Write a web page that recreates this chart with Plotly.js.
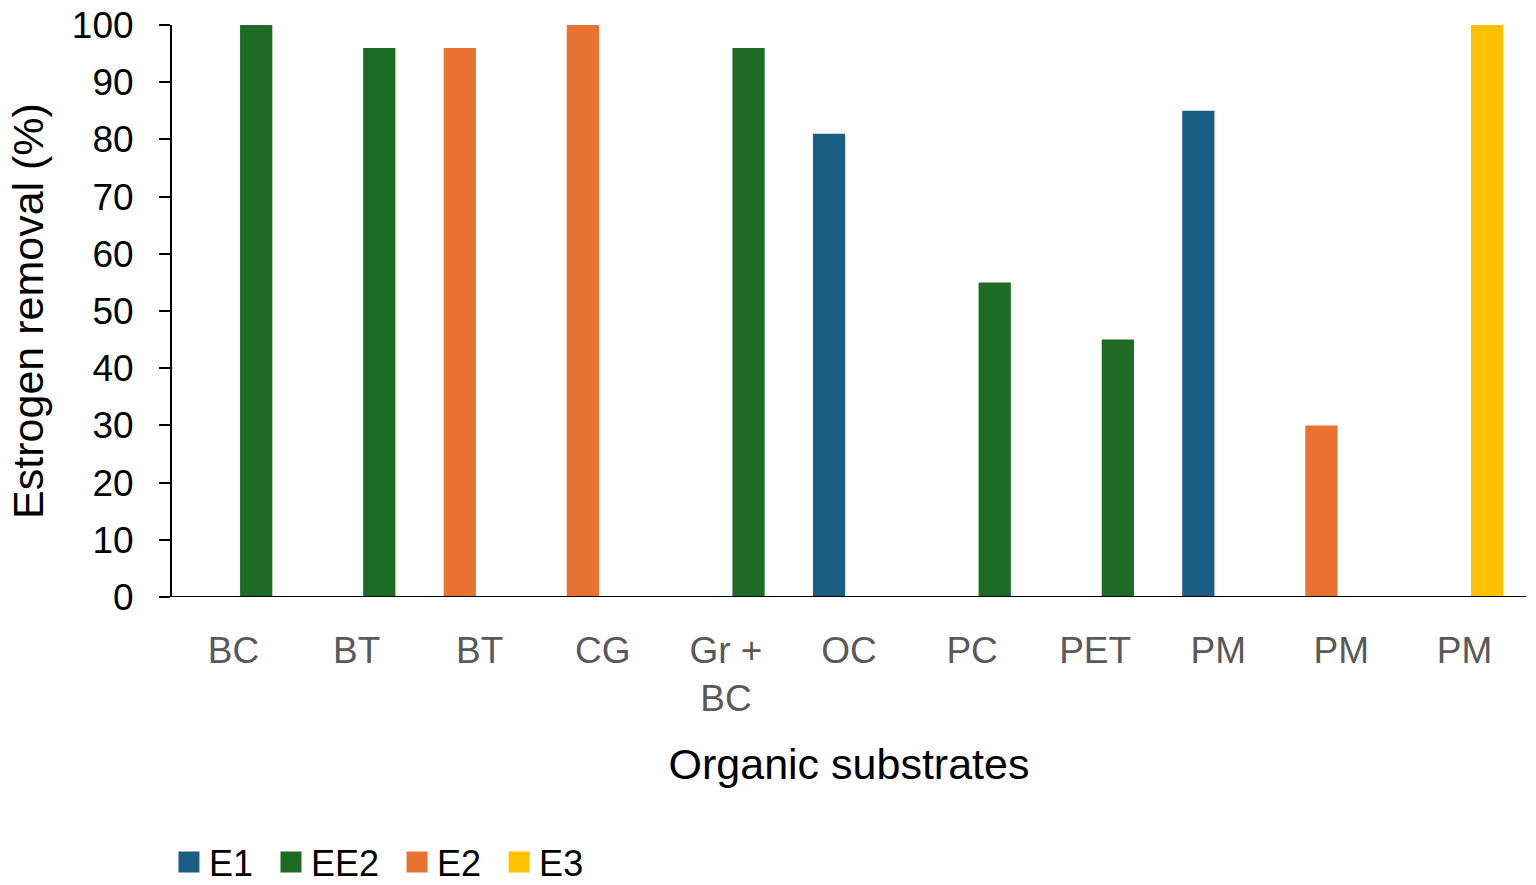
<!DOCTYPE html>
<html>
<head>
<meta charset="utf-8">
<script src="https://cdn.plot.ly/plotly-3.0.1.min.js"></script>
<style>
  html, body { margin: 0; padding: 0; background: white; }
  #chart { width: 1536px; height: 885px; }
</style>
</head>
<body>
<div id="chart"></div>
<script>
// substrates on the x axis (labels repeat, so the axis is numeric)
const CATEGORIES = [ 'BC', 'BT', 'BT', 'CG', 'Gr +<br>BC', 'OC', 'PC', 'PET', 'PM', 'PM', 'PM' ];

// estrogen removal (%) per substrate, null where not tested
const E1_VALUES  = [ null, null, null, null, null, 81, null, null, 85, null, null ];
const EE2_VALUES = [ 100, 96, null, null, 96, null, 55, 45, null, null, null ];
const E2_VALUES  = [ null, null, 96, 100, null, null, null, null, null, 30, null ];
const E3_VALUES  = [ null, null, null, null, null, null, null, null, null, null, 100 ];

const SERIES_NAMES  = [ 'E1', 'EE2', 'E2', 'E3' ];
const SERIES_COLORS = [ '#1b5e82', '#1e6b24', '#e97132', '#ffc000' ];
const SERIES_OFFSET = [ -0.293, 0.053, -0.293, 0.053 ];
const BAR_WIDTH     = 0.262;
const FONT          = 'Liberation Sans, Arial, sans-serif';
const KEY_PAD       = '\u00a0\u200a';   // a bit more room between legend entries

const positions = CATEGORIES.map( ( c, i ) => i );

function make_trace( values, n ) {
	return {
		type      : 'bar',
		name      : SERIES_NAMES[ n ],
		x         : positions,
		y         : values,
		offset    : SERIES_OFFSET[ n ],
		width     : BAR_WIDTH,
		marker    : { color: SERIES_COLORS[ n ] },
		showlegend: false,
		hoverinfo : 'y+name'
	};
}

// legend entries only: bigger square keys than the bar legend gives
function make_key( name, n ) {
	return {
		type  : 'scatter',
		mode  : 'markers',
		name  : name + KEY_PAD,
		x     : [ null ],
		y     : [ null ],
		marker: {
			symbol: 'square',
			size  : 16,
			color : SERIES_COLORS[ n ],
			line  : { color: SERIES_COLORS[ n ], width: 5 }
		}
	};
}

const traces = [ E1_VALUES, EE2_VALUES, E2_VALUES, E3_VALUES ].map( make_trace )
	.concat( SERIES_NAMES.map( make_key ) );

const layout = {
	width        : 1536,
	height       : 885,
	margin       : { l: 172, r: 10, t: 25, b: 288 },
	paper_bgcolor: 'white',
	plot_bgcolor : 'white',
	barmode      : 'overlay',
	font         : { family: FONT, size: 36, color: 'black' },
	xaxis        : {
		range     : [ -0.5, 10.5 ],
		tickvals  : positions,
		ticktext  : CATEGORIES,
		tickfont  : { family: FONT, size: 37, color: '#595959' },
		showgrid  : false,
		zeroline  : false,
		showline  : false,
		ticks     : '',
		ticklabelstandoff: 28,
		title     : { text: 'Organic substrates', font: { family: FONT, size: 43, color: 'black' }, standoff: 30 }
	},
	yaxis        : {
		range     : [ 0, 100 ],
		dtick     : 10,
		showgrid  : false,
		zeroline  : false,
		showline  : true,
		linecolor : 'black',
		linewidth : 2,
		ticks     : 'outside',
		ticklen   : 11,
		tickwidth : 2,
		tickcolor : 'black',
		tickfont  : { family: FONT, size: 37, color: 'black' },
		ticklabelstandoff: 18,
		title     : { text: 'Estrogen removal (%)', font: { family: FONT, size: 43, color: 'black' }, standoff: 15 }
	},
	shapes       : [ {
		type: 'line', xref: 'paper', yref: 'y',
		x0: 0, x1: 1, y0: 0, y1: 0,
		line: { color: 'black', width: 2 }
	} ],
	showlegend   : true,
	legend       : {
		orientation: 'h',
		xref       : 'container',
		yref       : 'container',
		x          : 0.110,
		xanchor    : 'left',
		y          : 0.026,
		yanchor    : 'middle',
		font       : { family: FONT, size: 36, color: 'black' },
		itemwidth  : 30
	}
};

Plotly.newPlot( 'chart', traces, layout, { displayModeBar: false, staticPlot: true } );
</script>
</body>
</html>
